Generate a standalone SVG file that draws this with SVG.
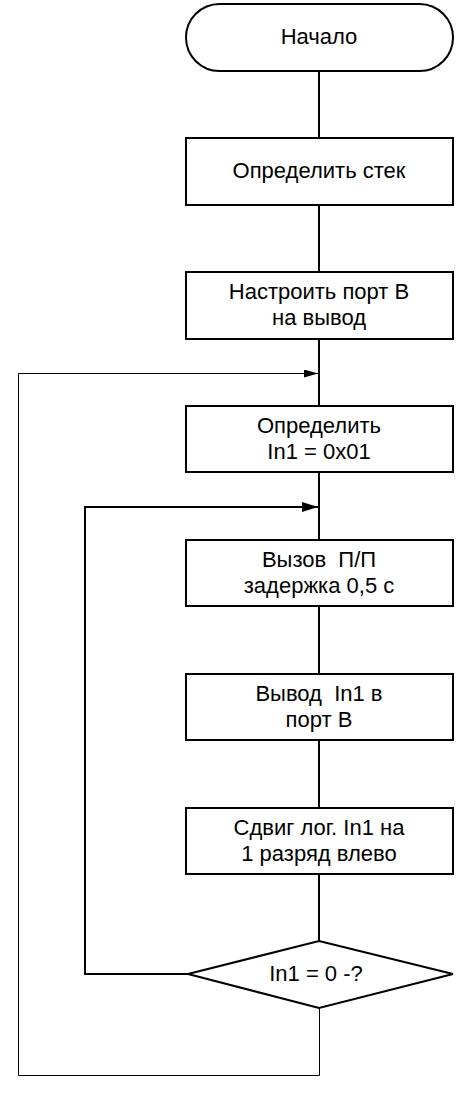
<svg xmlns="http://www.w3.org/2000/svg" width="457" height="1093" viewBox="0 0 457 1093">
<defs>
<style>
.sh{fill:#fff;stroke:#000;stroke-width:2}
.t{font-family:"Liberation Sans",Arial,sans-serif;font-size:22px;fill:#000;text-anchor:middle;white-space:pre}
.c{fill:none;stroke:#000;stroke-width:2}
.c1{fill:none;stroke:#000;stroke-width:1}
</style>
<marker id="ah" markerWidth="16" markerHeight="10" refX="16" refY="5" orient="auto" markerUnits="userSpaceOnUse">
<path d="M0,0 L16,5 L0,10 z" fill="#000"/>
</marker>
<marker id="ah1" markerWidth="14" markerHeight="8" refX="14" refY="4" orient="auto" markerUnits="userSpaceOnUse">
<path d="M0,0 L14,4 L0,8 z" fill="#000"/>
</marker>
</defs>
<g id="connectors">
<line class="c" x1="319" y1="71" x2="319" y2="138"/>
<line class="c" x1="319" y1="205" x2="319" y2="272"/>
<line class="c" x1="319" y1="339" x2="319" y2="406"/>
<line class="c" x1="319" y1="472" x2="319" y2="540"/>
<line class="c" x1="319" y1="606" x2="319" y2="674"/>
<line class="c" x1="319" y1="740" x2="319" y2="808"/>
<line class="c" x1="319" y1="874" x2="319" y2="941"/>
<polyline class="c" points="188,974 85,974 85,507 318,507" marker-end="url(#ah)"/>
<polyline class="c1" points="319.5,1008 319.5,1075.5 18.5,1075.5 18.5,373.5 318,373.5" marker-end="url(#ah1)"/>
</g>
<g id="start">
<rect class="sh" x="186" y="4" width="267" height="67" rx="33.5" ry="33.5"/>
<text class="t" x="319" y="44">Начало</text>
</g>
<g id="n1">
<rect class="sh" x="186" y="138" width="267" height="67"/>
<text class="t" x="319" y="178">Определить стек</text>
</g>
<g id="n2">
<rect class="sh" x="186" y="272" width="267" height="67"/>
<text class="t" x="319" y="298.5">Настроить порт В</text>
<text class="t" x="319" y="325">на вывод</text>
</g>
<g id="n3">
<rect class="sh" x="186" y="406" width="267" height="66"/>
<text class="t" x="319" y="432.5">Определить</text>
<text class="t" x="319" y="459">In1 = 0x01</text>
</g>
<g id="n4">
<rect class="sh" x="186" y="540" width="267" height="66"/>
<text class="t" x="319" y="566.5" xml:space="preserve">Вызов  П/П</text>
<text class="t" x="319" y="593">задержка 0,5 с</text>
</g>
<g id="n5">
<rect class="sh" x="186" y="674" width="267" height="66"/>
<text class="t" x="319" y="700.5" xml:space="preserve">Вывод  In1 в</text>
<text class="t" x="319" y="727">порт В</text>
</g>
<g id="n6">
<rect class="sh" x="186" y="808" width="267" height="66"/>
<text class="t" x="319" y="834.5">Сдвиг лог. In1 на</text>
<text class="t" x="319" y="861">1 разряд влево</text>
</g>
<g id="decision">
<polygon class="sh" points="319,941 453,974 319,1008 188,974"/>
<text class="t" x="316" y="981">In1 = 0 -?</text>
</g>
</svg>
